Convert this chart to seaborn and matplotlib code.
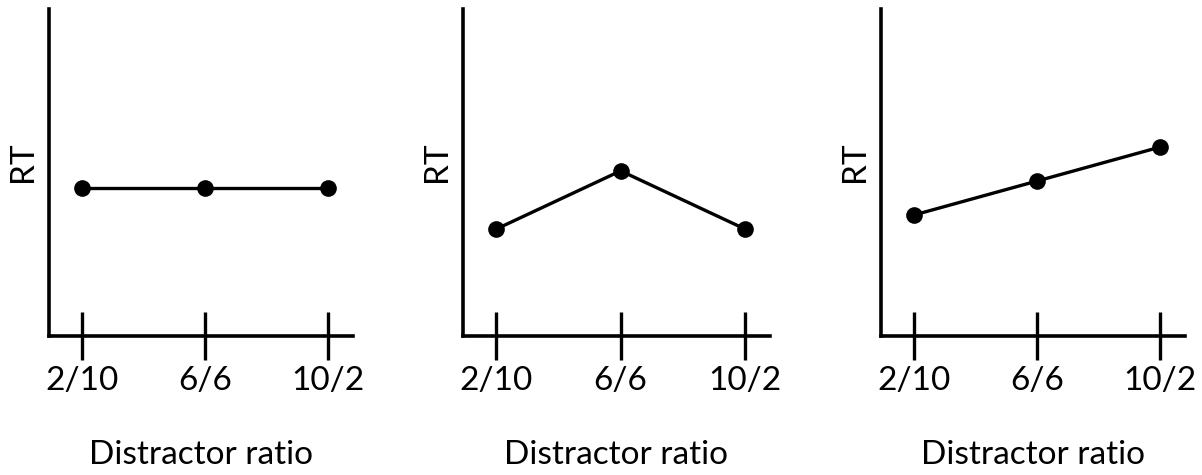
import matplotlib
matplotlib.use("Agg")
import matplotlib.pyplot as plt
import seaborn as sns
import pandas as pd

# Data
categories = ["2/10", "6/6", "10/2"]
rt_flat = [0.453, 0.453, 0.453]
rt_peak = [0.327, 0.505, 0.327]
rt_rise = [0.370, 0.474, 0.578]
panels = [rt_flat, rt_peak, rt_rise]
x_label = "Distractor ratio"
y_label = "RT"

sns.set_theme(style="white")
plt.rcParams["font.family"] = ["Lato", "DejaVu Sans"]

fig = plt.figure(figsize=(12.02, 4.75), dpi=100)
lefts = [49 / 1202, 463 / 1202, 881 / 1202]
widths = [304 / 1202, 307 / 1202, 304 / 1202]
bottom = (475 - 336) / 475
height = 327 / 475

for i, vals in enumerate(panels):
    ax = fig.add_axes([lefts[i], bottom, widths[i], height])
    df = pd.DataFrame({"pos": list(range(len(categories))), "rt": vals})
    sns.lineplot(data=df, x="pos", y="rt", ax=ax, color="black", linewidth=2.4,
                 marker="o", markersize=12, markeredgewidth=0, clip_on=False)
    ax.set_xlim(-0.267, 2.2)
    ax.set_ylim(0, 1)
    ax.set_xticks(range(len(categories)))
    ax.set_xticklabels(categories)
    ax.set_yticks([])
    for s in ["top", "right"]:
        ax.spines[s].set_visible(False)
    for s in ["left", "bottom"]:
        ax.spines[s].set_color("black")
        ax.spines[s].set_linewidth(2.6)
    ax.tick_params(axis="x", bottom=True, direction="inout", length=34.5, width=2.4,
                   color="black", labelsize=24, pad=4, labelcolor="black")
    ax.set_xlabel(x_label, fontsize=24, color="black", va="center")
    ax.xaxis.set_label_coords(0.5, -0.364)
    ax.set_ylabel(y_label, fontsize=24, color="black", va="center")
    ax.yaxis.set_label_coords(-0.086, 0.532)
    ax.grid(False)

fig.savefig("out.png", dpi=100, facecolor="white")
